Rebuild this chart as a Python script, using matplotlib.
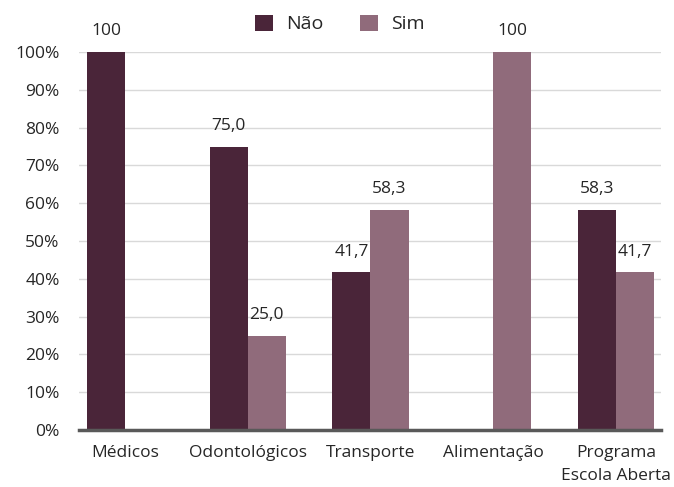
import matplotlib.pyplot as plt
import numpy as np

plt.rcParams['font.family'] = ['Open Sans', 'DejaVu Sans']

categorias = ['Médicos', 'Odontológicos', 'Transporte', 'Alimentação', 'Programa\nEscola Aberta']
nao = [100, 75.0, 41.7, 0, 58.3]
sim = [0, 25.0, 58.3, 100, 41.7]
rotulos_nao = ['100', '75,0', '41,7', '', '58,3']
rotulos_sim = ['', '25,0', '58,3', '100', '41,7']

cor_nao = '#4A2539'
cor_sim = '#906B7B'
cor_txt = '#262626'

fig = plt.figure(figsize=(6.74, 4.87), dpi=100)
ax = fig.add_axes([79/674, (487-430)/487, (661-79)/674, (430-52)/487])

x = np.arange(len(categorias))
w = 0.31
b1 = ax.bar(x - w/2, nao, w, color=cor_nao, label='Não', zorder=3)
b2 = ax.bar(x + w/2, sim, w, color=cor_sim, label='Sim', zorder=3)

# rótulos de valor acima das barras
for bars, labs in ((b1, rotulos_nao), (b2, rotulos_sim)):
    for r, t in zip(bars, labs):
        if t:
            ax.annotate(t, (r.get_x() + r.get_width()/2, r.get_height()),
                        xytext=(0, 15), textcoords='offset points',
                        ha='center', va='center', fontsize=12.5, color=cor_txt)

ax.set_xlim(-0.375, 4.367)
ax.set_ylim(0, 100)
ax.set_yticks(np.arange(0, 101, 10))
ax.set_yticklabels([f'{v}%' for v in range(0, 101, 10)])
ax.set_xticks(x)
ax.set_xticklabels(categorias, linespacing=1.55)
ax.tick_params(axis='both', length=0, labelsize=12.5, colors=cor_txt)
ax.tick_params(axis='x', pad=11)
ax.tick_params(axis='y', pad=14)

ax.yaxis.grid(True, color='#D9D9D9', linewidth=1, zorder=0)
for s in ['left', 'right', 'top']:
    ax.spines[s].set_visible(False)
ax.spines['bottom'].set_color('#595959')
ax.spines['bottom'].set_linewidth(2.5)
ax.spines['bottom'].set_zorder(4)

fig.legend(loc='center', bbox_to_anchor=(340/674, 1 - 24/487), ncol=2, frameon=False,
           fontsize=14, handlelength=0.93, handleheight=0.93, columnspacing=1.9,
           handletextpad=0.65, labelcolor=cor_txt, borderpad=0)

fig.savefig('out.png', dpi=100)
